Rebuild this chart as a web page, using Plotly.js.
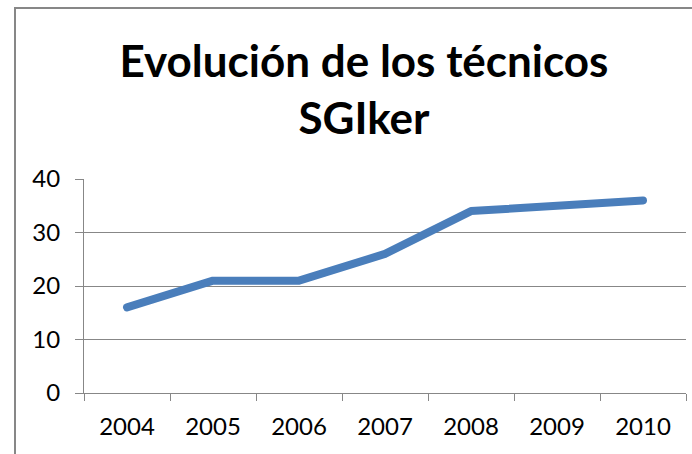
<!DOCTYPE html>
<html>
<head>
<meta charset="utf-8">
<script src="https://cdn.plot.ly/plotly-3.0.1.min.js"></script>
<style>
  html, body { margin: 0; padding: 0; background: #fff; }
  #wrap { position: relative; width: 692px; height: 454px; overflow: hidden; }
  #chart { position: absolute; left: 0; top: 0; width: 692px; height: 454px; }
  #frame { position: absolute; left: 14px; top: 7px; width: 700px; height: 500px;
           border-left: 2px solid #878787; border-top: 2px solid #878787; pointer-events: none; }
  .scatterlayer path.js-line { stroke-linecap: round; stroke-linejoin: round; }
</style>
</head>
<body>
<div id="wrap">
  <div id="chart"></div>
  <div id="frame"></div>
</div>
<script>
const years = ['2004', '2005', '2006', '2007', '2008', '2009', '2010'];
const tecnicos = [16, 21, 21, 26, 34, 35, 36];
const yTicks = [0, 10, 20, 30, 40];

const font = 'Lato, "Liberation Sans", sans-serif';

Plotly.newPlot('chart', [{
  type: 'scatter',
  mode: 'lines',
  x: years,
  y: tecnicos,
  line: { color: '#4a7ebb', width: 8 },
  hoverinfo: 'x+y'
}], {
  width: 692,
  height: 454,
  margin: { l: 84, r: 6, t: 179, b: 61 },
  paper_bgcolor: '#ffffff',
  plot_bgcolor: '#ffffff',
  showlegend: false,
  title: {
    text: '<b>Evolución de los técnicos<br>SGIker</b>',
    x: 0.526,
    xanchor: 'center',
    xref: 'container',
    y: 0.831,
    yanchor: 'top',
    yref: 'container',
    font: { family: font, size: 44, color: '#000000' }
  },
  xaxis: {
    type: 'category',
    range: [-0.5, 6.5],
    showgrid: false,
    showline: true,
    linecolor: '#878787',
    linewidth: 1,
    ticks: 'outside',
    tickson: 'boundaries',
    ticklen: 7,
    tickcolor: '#878787',
    tickwidth: 1,
    ticklabelstandoff: 12,
    tickfont: { family: font, size: 24, color: '#000000' },
    zeroline: false,
    fixedrange: true
  },
  yaxis: {
    range: [0, 40],
    tickvals: yTicks,
    ticktext: yTicks.map(String),
    showgrid: true,
    gridcolor: '#878787',
    gridwidth: 1,
    showline: true,
    linecolor: '#878787',
    linewidth: 1,
    ticks: 'outside',
    ticklen: 8,
    tickcolor: '#878787',
    tickwidth: 1,
    ticklabelstandoff: 10,
    tickfont: { family: font, size: 24, color: '#000000' },
    zeroline: false,
    fixedrange: true
  }
}, { displayModeBar: false, staticPlot: true });
</script>
</body>
</html>
